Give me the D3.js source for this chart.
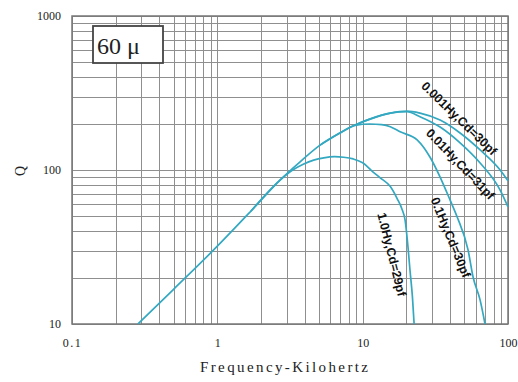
<!DOCTYPE html>
<html>
<head>
<meta charset="utf-8">
<script src="https://cdn.jsdelivr.net/npm/d3@7"></script>
<style>
  body { margin: 0; background: #fff; }
  .grid line { stroke: #8f8f8f; stroke-width: 1; shape-rendering: crispEdges; }
  .grid .domain { display: none; }
  .axis .domain { display: none; }
  .axis text { font-family: "Liberation Serif", serif; font-size: 12px; fill: #222; }
</style>
</head>
<body>
<script>
// Q vs frequency, 60 mu core, four inductances
var seriesNames = ["0.001Hy,Cd=30pf", "0.01Hy,Cd=31pf", "0.1Hy,Cd=30pf", "1.0Hy,Cd=29pf"];

// 0.001Hy - carries the shared rising part too
var freq001 = [0.284, 0.5, 1, 1.7, 2.7, 3.71, 5.09, 6.98, 8.87, 11.2, 15.5, 20.2, 24.8, 34.1, 46.8, 64.3, 88.3, 100];
var q001    = [10, 16.8, 32, 54, 86, 113, 145, 174, 196, 214, 234, 241, 234, 211, 174, 135, 100, 85];

// 0.01Hy - branches off past the peak (first points shared with the envelope)
var freq01 = [8.87, 11.2, 15.5, 20.2, 24.8, 34.1, 46.8, 64.3, 88.3, 100];
var q01    = [196, 214, 234, 239, 222, 190, 150, 111, 74, 57.5];

// 0.1Hy - branches off near 9 kHz
var freq1 = [5.09, 6.98, 8.87, 11.2, 13.5, 15.5, 18.1, 23.7, 29.1, 34.1, 39.9, 44.7, 53.1, 57.5, 64.3, 69.5];
var q1    = [145, 174, 195, 199, 197, 191, 177, 157, 121, 90, 64, 49.5, 30.3, 20.2, 14.3, 10];

// 1.0Hy - branches off near 3 kHz
var freq10 = [1.7, 2.7, 3.3, 3.9, 4.6, 5.4, 6.4, 7.4, 8.6, 10.07, 11.8, 13.2, 15.5, 17.3, 18.6, 19.6, 20.3, 21.2, 22, 22.6];
var q10    = [54, 86, 100, 109, 116, 120, 122, 121, 118, 111, 97, 89, 78, 65, 56, 47, 35, 22, 15, 10];

var xTickValues = [0.1, 1, 10, 100];
var xTickLabels = ["0.1", "1", "10", "100"];
var yTickValues = [10, 100, 1000];
var yTickLabels = ["10", "100", "1000"];

var width = 518,
    height = 382,
    plotL = 72, plotR = 508, plotT = 16, plotB = 324;

var svg = d3.select("body").append("svg")
    .attr("width", width)
    .attr("height", height)
    .style("display", "block");

var x = d3.scaleLog().domain([0.1, 100]).range([plotL, plotR]);
var y = d3.scaleLog().domain([10, 1000]).range([plotB, plotT]);

// grid: every 1..9 step of each decade
svg.append("g")
    .attr("class", "grid")
    .attr("transform", "translate(0," + plotB + ")")
    .call(d3.axisBottom(x).ticks(30).tickSize(-(plotB - plotT)).tickFormat(""));

svg.append("g")
    .attr("class", "grid")
    .attr("transform", "translate(" + plotL + ",0)")
    .call(d3.axisLeft(y).ticks(20).tickSize(-(plotR - plotL)).tickFormat(""));

// frame
svg.append("rect")
    .attr("x", plotL).attr("y", plotT)
    .attr("width", plotR - plotL).attr("height", plotB - plotT)
    .attr("fill", "none")
    .attr("stroke", "#777")
    .attr("stroke-width", 1.5);

// tick labels
svg.append("g")
    .attr("class", "axis")
    .attr("transform", "translate(0," + plotB + ")")
    .call(d3.axisBottom(x).tickValues(xTickValues).tickSize(0).tickPadding(14)
        .tickFormat(function(d, i) { return xTickLabels[i]; }))
    .selectAll("text")
    .style("letter-spacing", function(d, i) { return i === 0 ? "1.5px" : null; });

svg.append("g")
    .attr("class", "axis")
    .attr("transform", "translate(" + plotL + ",0)")
    .call(d3.axisLeft(y).tickValues(yTickValues).tickSize(0).tickPadding(11)
        .tickFormat(function(d, i) { return yTickLabels[i]; }));

// axis titles
svg.append("text")
    .attr("x", 284).attr("y", 372)
    .attr("text-anchor", "middle")
    .attr("textLength", 168)
    .attr("lengthAdjust", "spacing")
    .style("font-family", "Liberation Serif, serif")
    .style("font-size", "15px")
    .style("fill", "#222")
    .text("Frequency-Kilohertz");

svg.append("text")
    .attr("transform", "translate(20,171) rotate(-90)")
    .attr("text-anchor", "middle")
    .attr("dominant-baseline", "central")
    .style("font-family", "Liberation Serif, serif")
    .style("font-size", "14px")
    .style("fill", "#222")
    .text("Q");

// material box
svg.append("rect")
    .attr("x", 93).attr("y", 26)
    .attr("width", 70).attr("height", 37)
    .attr("fill", "#fff")
    .attr("stroke", "#444")
    .attr("stroke-width", 1.8);

svg.append("text")
    .attr("x", 97).attr("y", 54)
    .style("font-family", "Liberation Serif, serif")
    .style("font-size", "24px")
    .style("fill", "#222")
    .text("60 \u03bc");

// curves
var series = [
    { name: seriesNames[0], f: freq001, q: q001 },
    { name: seriesNames[1], f: freq01, q: q01 },
    { name: seriesNames[2], f: freq1, q: q1 },
    { name: seriesNames[3], f: freq10, q: q10 }
];

var line = d3.line()
    .x(function(d) { return x(d[0]); })
    .y(function(d) { return y(d[1]); })
    .curve(d3.curveMonotoneX);

svg.selectAll(".curve")
    .data(series)
    .enter().append("path")
    .attr("class", "curve")
    .attr("fill", "none")
    .attr("stroke", "#33a8c0")
    .attr("stroke-width", 1.7)
    .attr("d", function(s) { return line(s.f.map(function(f, i) { return [f, s.q[i]]; })); });

// curve labels, anchored in data units, rotated along the curve
var labelPlace = [
    { f: 26.1, q: 361, angle: 44 },
    { f: 28.2, q: 179, angle: 46 },
    { f: 31, q: 65.8, angle: 67.6 },
    { f: 13.4, q: 52.6, angle: 76 }
];

svg.selectAll(".clabel")
    .data(series)
    .enter().append("text")
    .attr("class", "clabel")
    .attr("transform", function(s, i) {
        var p = labelPlace[i];
        return "translate(" + x(p.f) + "," + y(p.q) + ") rotate(" + p.angle + ")";
    })
    .attr("dominant-baseline", "central")
    .style("font-family", "Liberation Sans, Arial, sans-serif")
    .style("font-weight", "bold")
    .style("font-size", "12.5px")
    .style("fill", "#111")
    .text(function(s) { return s.name; });
</script>
</body>
</html>
